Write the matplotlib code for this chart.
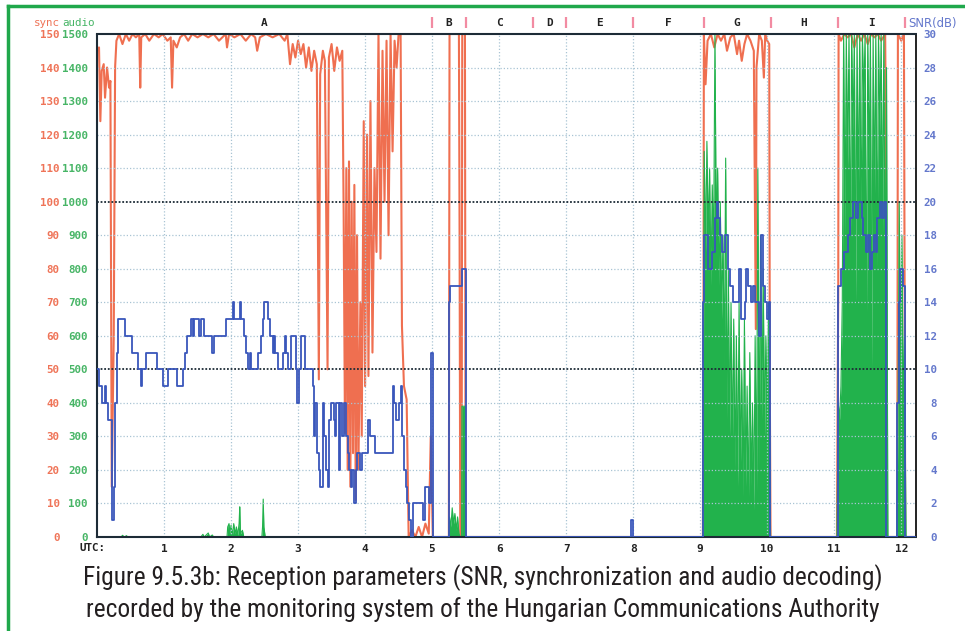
import matplotlib
matplotlib.use("Agg")
import matplotlib.pyplot as plt
from matplotlib import font_manager as fm
from matplotlib.transforms import blended_transform_factory
from matplotlib.lines import Line2D

# ---------------- data ----------------
hours = [1, 2, 3, 4, 5, 6, 7, 8, 9, 10, 11, 12]
sync_levels = list(range(0, 151, 10))
audio_levels = list(range(0, 1501, 100))
snr_levels = list(range(0, 31, 2))
section_names = ["A", "B", "C", "D", "E", "F", "G", "H", "I"]
section_bounds = [0.0, 5.0, 5.5, 6.5, 7.0, 8.0, 9.05, 10.05, 11.05, 12.05]
caption_lines = ["Figure 9.5.3b: Reception parameters (SNR, synchronization and audio decoding)",
                 "recorded by the monitoring system of the Hungarian Communications Authority"]

sync_t = [0.00, 0.03, 0.05, 0.07, 0.10, 0.12, 0.15, 0.18, 0.20, 0.22, 0.25, 0.27, 0.29,
          0.33, 0.38, 0.43, 0.48, 0.53, 0.58, 0.63, 0.645, 0.66, 0.72, 0.78, 0.85, 0.92,
          0.98, 1.05, 1.10, 1.12, 1.14, 1.19, 1.24, 1.30, 1.36, 1.42, 1.50, 1.58, 1.66,
          1.74, 1.82, 1.92, 1.94, 1.97, 2.05, 2.14, 2.22, 2.30, 2.36, 2.39, 2.43, 2.52,
          2.62, 2.72, 2.80, 2.84, 2.88, 2.92, 2.96, 3.00, 3.04, 3.08, 3.12, 3.16, 3.20,
          3.24, 3.28, 3.31, 3.33, 3.37, 3.40, 3.42, 3.44, 3.46, 3.50, 3.54, 3.58, 3.62,
          3.66, 3.68, 3.70, 3.72, 3.74, 3.76, 3.78, 3.80, 3.82, 3.84, 3.86, 3.88, 3.90,
          3.93, 3.95, 3.98, 4.00, 4.03, 4.05, 4.08, 4.11, 4.14, 4.17, 4.20, 4.23, 4.26,
          4.29, 4.32, 4.35, 4.38, 4.41, 4.44, 4.47, 4.50, 4.53, 4.55, 4.58, 4.62, 4.65,
          4.70, 4.75, 4.80, 4.85, 4.90, 4.95, 4.98, 5.01,
          5.25, 5.26, 5.40, 5.41, 5.42, 5.44, 5.45, 5.49, 5.50,
          9.04, 9.045, 9.05, 9.055, 9.08, 9.11, 9.16, 9.21, 9.26, 9.31, 9.36, 9.40, 9.45,
          9.50, 9.55, 9.58, 9.62, 9.66, 9.70, 9.75, 9.80, 9.83, 9.84, 9.88, 9.92, 9.95,
          9.97, 10.00, 10.03, 10.04, 10.05,
          11.04, 11.05, 11.06, 11.065, 11.10, 11.15, 11.20, 11.25, 11.30, 11.35, 11.40,
          11.45, 11.50, 11.55, 11.60, 11.65, 11.70, 11.76, 11.77, 11.78, 11.79,
          11.94, 11.95, 12.00, 12.04, 12.06, 12.22]
sync_v = [145, 146, 124, 139, 141, 131, 140, 134, 136, 15, 60, 140, 148,
          150, 147, 150, 148, 150, 149, 150, 134, 149, 150, 148, 150, 149,
          150, 148, 149, 134, 148, 146, 149, 150, 148, 150, 149, 150, 149,
          150, 148, 150, 146, 150, 149, 150, 148, 150, 149, 145, 149, 150,
          149, 150, 148, 150, 141, 147, 143, 148, 144, 147, 140, 146, 139,
          145, 141, 47, 138, 145, 142, 95, 50, 143, 147, 139, 146, 142,
          145, 97, 31, 110, 20, 112, 15, 100, 25, 105, 11, 90, 20,
          70, 30, 124, 45, 120, 48, 130, 55, 110, 85, 150, 83, 145,
          100, 148, 90, 150, 115, 148, 140, 150, 150, 63, 45, 41, 0,
          2, 0, 3, 0, 4, 1, 30, 0,
          0, 150, 150, 90, 0, 0, 150, 150, 0,
          0, 43, 75, 150, 135, 148, 150, 146, 150, 148, 150, 145, 149,
          150, 144, 148, 142, 147, 150, 148, 145, 62, 140, 150, 148, 137,
          150, 148, 147, 40, 0,
          0, 38, 75, 150, 148, 150, 149, 150, 146, 150, 148,
          150, 147, 150, 149, 150, 148, 150, 120, 37, 0,
          0, 150, 148, 150, 0, 0]

audio_t = [0.00, 0.36, 0.38, 0.41, 0.44, 0.46, 1.55, 1.58, 1.60, 1.66, 1.68, 1.72, 1.74,
           1.94, 1.95, 1.97, 1.98, 2.00, 2.02, 2.04, 2.06, 2.08, 2.10, 2.12, 2.13, 2.14,
           2.17, 2.19, 2.46, 2.47, 2.48, 2.49, 2.51,
           5.25, 5.26, 5.28, 5.30, 5.32, 5.34, 5.36, 5.38, 5.40, 5.42, 5.44, 5.445, 5.495, 5.50,
           9.04, 9.06, 9.08, 9.10, 9.12, 9.14, 9.16, 9.18, 9.20, 9.22, 9.24, 9.26, 9.28,
           9.30, 9.32, 9.34, 9.36, 9.38, 9.40, 9.42, 9.44, 9.46, 9.48, 9.50, 9.52, 9.54,
           9.56, 9.58, 9.60, 9.62, 9.64, 9.66, 9.68, 9.70, 9.72, 9.74, 9.76, 9.78, 9.80,
           9.82, 9.84, 9.86, 9.88, 9.90, 9.92, 9.94, 9.96, 9.98, 10.00, 10.02, 10.04, 10.05,
           11.04, 11.06, 11.08, 11.10, 11.12, 11.14, 11.16, 11.18, 11.20, 11.22, 11.24,
           11.26, 11.28, 11.30, 11.32, 11.34, 11.36, 11.38, 11.40, 11.42, 11.44, 11.46,
           11.48, 11.50, 11.52, 11.54, 11.56, 11.58, 11.60, 11.62, 11.64, 11.66, 11.68,
           11.70, 11.72, 11.74, 11.76, 11.78, 11.80,
           11.93, 11.95, 11.97, 11.99, 12.01, 12.03, 12.05, 12.07, 12.22]
audio_v = [0, 0, 5, 0, 4, 0, 0, 8, 0, 12, 0, 6, 0,
           0, 30, 40, 10, 35, 5, 40, 10, 30, 5, 40, 90, 10,
           20, 0, 0, 30, 113, 30, 0,
           0, 60, 30, 87, 40, 70, 20, 60, 10, 0, 0, 390, 390, 0,
           0, 1150, 850, 1180, 900, 1100, 750, 1050, 850, 1500, 900, 1100, 750,
           1000, 650, 900, 500, 1130, 350, 800, 300, 700, 250, 650, 200, 600,
           150, 700, 200, 500, 120, 650, 150, 450, 100, 550, 150, 400, 80,
           600, 120, 1100, 200, 900, 350, 800, 300, 600, 350, 700, 250, 0,
           0, 400, 350, 450, 700, 1500, 900, 1500, 1100, 1500, 800,
           1500, 1200, 1500, 700, 1500, 1000, 1500, 900, 1500, 1300, 1500,
           600, 1500, 1100, 1500, 500, 1500, 1000, 1500, 800, 1500, 1200,
           1500, 900, 1500, 700, 1400, 0,
           0, 300, 1000, 450, 900, 400, 600, 0, 0]

snr_t = [0.00, 0.03, 0.07, 0.12, 0.14, 0.17, 0.23, 0.25, 0.27, 0.30, 0.32, 0.42, 0.52,
         0.61, 0.65, 0.67, 0.73, 0.90, 0.98, 1.06, 1.20, 1.29, 1.31, 1.34, 1.40, 1.43,
         1.45, 1.52, 1.55, 1.60, 1.72, 1.74, 1.92, 2.03, 2.05, 2.13, 2.15, 2.19, 2.22,
         2.25, 2.28, 2.30, 2.40, 2.44, 2.47, 2.49, 2.55, 2.58, 2.62, 2.64, 2.66, 2.70,
         2.77, 2.80, 2.82, 2.85, 2.89, 2.97, 2.99, 3.01, 3.04, 3.11, 3.22, 3.24, 3.26,
         3.28, 3.31, 3.33, 3.37, 3.39, 3.41, 3.44, 3.46, 3.49, 3.53, 3.55, 3.57, 3.61,
         3.63, 3.66, 3.68, 3.71, 3.74, 3.76, 3.79, 3.81, 3.83, 3.86, 3.88, 3.93, 3.96,
         4.04, 4.07, 4.15, 4.41, 4.43, 4.46, 4.50, 4.53, 4.55, 4.58, 4.61, 4.63, 4.66,
         4.68, 4.71, 4.87, 4.90, 4.95, 4.98, 5.01,
         5.25, 5.26, 5.44, 5.50, 7.97, 7.99,
         9.04, 9.06, 9.12, 9.18, 9.22, 9.25, 9.27, 9.30, 9.33, 9.37, 9.41, 9.45, 9.49,
         9.58, 9.61, 9.67, 9.69, 9.72, 9.76, 9.79, 9.82, 9.87, 9.91, 9.93, 9.96, 10.00,
         10.03, 10.045,
         11.05, 11.10, 11.15, 11.20, 11.24, 11.28, 11.32, 11.36, 11.41, 11.43, 11.47,
         11.50, 11.53, 11.56, 11.60, 11.62, 11.64, 11.68, 11.71, 11.74, 11.765,
         11.94, 11.96, 11.98, 12.02, 12.05, 12.06, 12.22]
snr_v = [10, 9, 8, 9, 8, 7, 1, 3, 8, 11, 13, 12, 11,
         10, 9, 10, 11, 10, 9, 10, 9, 10, 11, 12, 13, 12,
         13, 12, 13, 12, 11, 12, 13, 14, 13, 14, 13, 12, 11,
         10, 11, 10, 11, 12, 13, 14, 13, 12, 11, 12, 11, 10,
         11, 12, 11, 10, 12, 10, 8, 10, 12, 10, 9, 6, 8,
         5, 4, 3, 8, 6, 4, 3, 7, 8, 7, 6, 8, 4,
         8, 6, 8, 6, 5, 4, 3, 4, 2, 4, 5, 4, 5,
         7, 6, 5, 9, 8, 7, 8, 9, 6, 4, 3, 2, 1,
         0, 2, 1, 3, 2, 11, 0,
         14, 15, 16, 0, 1, 0,
         14, 18, 16, 17, 19, 20, 19, 18, 17, 18, 16, 15, 14,
         16, 13, 14, 16, 15, 14, 15, 14, 12, 18, 15, 14, 13,
         14, 0,
         15, 16, 17, 18, 19, 20, 19, 20, 19, 18, 17,
         18, 16, 17, 18, 17, 19, 20, 19, 20, 0,
         8, 14, 16, 15, 14, 0, 0]

# ---------------- styling ----------------
W, H = 965, 631
RED = "#ee5f3d"
GREEN = "#22b24c"
BLUE = "#3956bb"
MONO = "DejaVu Sans Mono"


def pick_caption_font():
    narrow = []
    for f in fm.fontManager.ttflist:
        fn = f.fname.lower()
        nm = f.name.lower()
        if f.style != "normal":
            continue
        w = f.weight if isinstance(f.weight, int) else 400
        if w > 500:
            continue
        if "narrow" in fn or "condensed" in fn or "narrow" in nm or "condensed" in nm:
            narrow.append(f)
    for key in ("liberationsansnarrow", "robotocondensed", "dejavusanscondensed",
                "opensans_condensed", "opensanscondensed"):
        for f in narrow:
            if key in f.fname.lower().replace("-", "").replace(" ", ""):
                return fm.FontProperties(fname=f.fname)
    if narrow:
        return fm.FontProperties(fname=narrow[0].fname)
    return fm.FontProperties(family=["Roboto", "DejaVu Sans"])


fig = plt.figure(figsize=(W / 100, H / 100), dpi=100)
fig.patch.set_facecolor("white")

L, R, T, B = 97, 916, 34, 537
ax = fig.add_axes([L / W, 1 - B / H, (R - L) / W, (B - T) / H])
ax.set_xlim(0, 12.22)
ax.set_ylim(0, 150)
ax_a = ax.twinx()
ax_a.set_ylim(0, 1500)
ax_s = ax.twinx()
ax_s.set_ylim(0, 30)

# sync (red)
ax.plot(sync_t, sync_v, color=RED, lw=1.5, alpha=0.9, zorder=2)

# audio (green)
ax_a.fill_between(audio_t, 0, audio_v, color=GREEN, lw=0, zorder=2)
ax_a.plot(audio_t, audio_v, color=GREEN, lw=0.8, zorder=3)

# grid (on the top axes so it shows above fills)
for h in hours:
    ax_s.axvline(h, color="#a9c4d4", ls=(0, (1, 1.6)), lw=0.9, zorder=1)
for s in snr_levels[1:-1]:
    if s in (10, 20):
        ax_s.axhline(s, color="#1d2b36", ls=(0, (1, 1)), lw=1.3, zorder=1)
    else:
        ax_s.axhline(s, color="#a9c4d4", ls=(0, (1, 1.6)), lw=0.9, zorder=1)

# SNR (blue)
ax_s.step(snr_t, snr_v, where="post", color=BLUE, lw=1.3, zorder=4)

# spines
for a in (ax, ax_a):
    for sp in a.spines.values():
        sp.set_visible(False)
for name in ("top", "left", "bottom"):
    ax_s.spines[name].set_linestyle((0, (1, 1)))
    ax_s.spines[name].set_linewidth(1.5)
    ax_s.spines[name].set_color("#1d2b36")
ax_s.spines["right"].set_linewidth(1.3)
ax_s.spines["right"].set_color("#111111")

# ticks
ax.set_yticks(sync_levels, labels=[str(v) for v in sync_levels],
              fontfamily=MONO, fontweight="bold", fontsize=7.8, color="#ef7458")
ax.tick_params(axis="y", length=0, pad=27)
ax_a.yaxis.tick_left()
ax_a.set_yticks(audio_levels, labels=[str(v) for v in audio_levels],
                fontfamily=MONO, fontweight="bold", fontsize=7.8, color="#47b566")
ax_a.tick_params(axis="y", length=0, pad=6.5, left=False, right=False,
                 labelleft=True, labelright=False)
ax_s.set_yticks(snr_levels, labels=[str(v) for v in snr_levels],
                fontfamily=MONO, fontweight="bold", fontsize=7.8, color="#6478cc",
                ha="right")
ax_s.tick_params(axis="y", length=0, pad=15)
ax.set_xticks(hours, labels=[str(h) for h in hours],
              fontfamily=MONO, fontweight="bold", fontsize=8, color="#222222")
ax.tick_params(axis="x", length=0, pad=5)

fig.text(92 / W, 1 - 548 / H, "UTC:", ha="center", va="center",
         fontfamily=MONO, fontweight="bold", fontsize=7.8, color="#222222")

# section labels and markers
trans = blended_transform_factory(ax.transData, ax.transAxes)
for i, name in enumerate(section_names):
    mid = (section_bounds[i] + section_bounds[i + 1]) / 2
    ax.text(mid, 1.021, name, transform=trans, ha="center", va="center",
            fontfamily=MONO, fontweight="bold", fontsize=8, color="#222222", clip_on=False)
for b in section_bounds[1:]:
    ax.plot([b, b], [1.011, 1.034], transform=trans, color="#f28ba2", lw=1.6,
            clip_on=False, solid_capstyle="butt")

fig.text(60 / W, 1 - 23 / H, "sync", ha="right", va="center",
         fontfamily=MONO, fontsize=7.8, color="#ef7458")
fig.text(62 / W, 1 - 23 / H, "audio", ha="left", va="center",
         fontfamily=MONO, fontsize=7.8, color="#47b566")
fig.text(908 / W, 1 - 24 / H, "SNR(dB)", ha="left", va="center",
         fontfamily="DejaVu Sans", fontsize=8.4, color="#6478cc")

# caption
cap_fp = pick_caption_font()
cap_fp.set_size(18)
cap1 = fig.text(483 / W, 1 - 578 / H, caption_lines[0], ha="center", va="center",
                fontproperties=cap_fp, color="#231f20")
cap2 = fig.text(483 / W, 1 - 610 / H, caption_lines[1], ha="center", va="center",
                fontproperties=cap_fp.copy(), color="#231f20")
fig.canvas.draw()
wpx = cap1.get_window_extent().width
size = min(19.0, 18 * 800.0 / wpx)
cap1.set_fontsize(size)
cap2.set_fontsize(size)

# green frame
fig.add_artist(Line2D([8 / W, 8 / W], [0, 1 - 6 / H], transform=fig.transFigure,
                      color="#1fa84b", lw=2.5))
fig.add_artist(Line2D([8 / W, 1], [1 - 6 / H, 1 - 6 / H], transform=fig.transFigure,
                      color="#1fa84b", lw=2.5))

fig.savefig("out.png", dpi=100)
